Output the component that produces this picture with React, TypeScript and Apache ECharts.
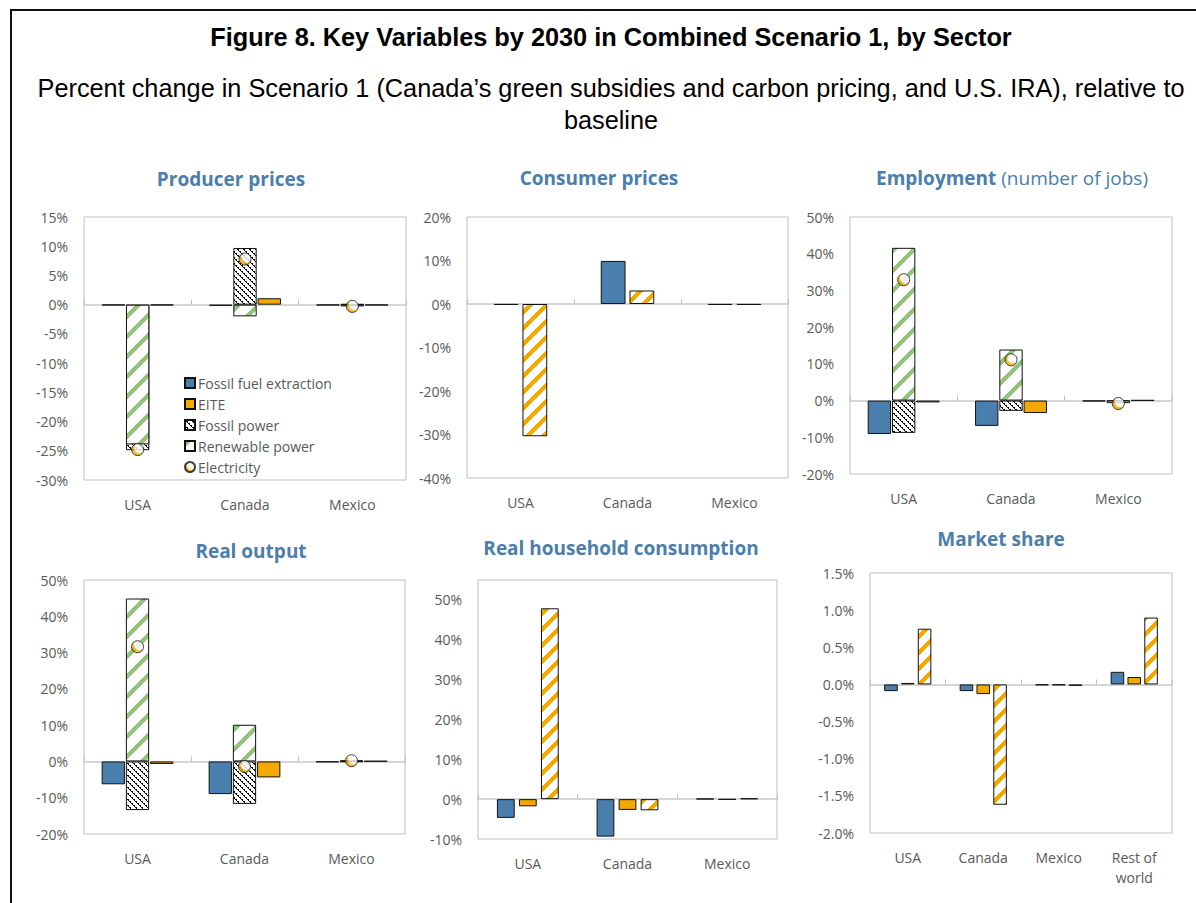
import React, { useEffect, useRef } from 'react';
import * as echarts from 'echarts';

// ---------- Categories ----------
const countries = ['USA', 'Canada', 'Mexico'];
const marketCountries = ['USA', 'Canada', 'Mexico', 'Rest of\nworld'];

// ---------- Producer prices (%) ----------
const ppFossilFuel = [-0.1, -0.2, -0.1];
const ppFossilPower = [-24.9, 9.7, 0.1];
const ppRenewable = [-23.9, -2.0, -0.3];
const ppEITE = [-0.1, 1.1, -0.1];
const ppElectricity = [-24.8, 7.8, -0.3];

// ---------- Consumer prices (%) ----------
const cpFossilFuel = [-0.2, 9.9, -0.2];
const cpElectricity = [-30.4, 3.1, -0.2];

// ---------- Employment (%) ----------
const emFossilFuel = [-9.1, -6.9, -0.2];
const emFossilPower = [-8.8, -2.8, -0.2];
const emRenewable = [41.6, 13.9, -0.7];
const emEITE = [-0.5, -3.4, 0.1];
const emElectricity = [32.9, 11.1, -0.8];

// ---------- Real output (%) ----------
const roFossilFuel = [-6.3, -9.0, -0.2];
const roFossilPower = [-13.4, -11.7, -0.1];
const roRenewable = [44.9, 10.1, 0.3];
const roEITE = [-0.7, -4.4, 0.1];
const roElectricity = [31.6, -1.4, 0.2];

// ---------- Real household consumption (%) ----------
const hcFossilFuel = [-4.7, -9.4, 0.1];
const hcEITE = [-1.8, -2.7, -0.1];
const hcElectricity = [47.9, -2.8, 0.2];

// ---------- Market share (percentage points) ----------
const msFossilFuel = [-0.09, -0.09, -0.01, 0.17];
const msEITE = [0.02, -0.13, -0.01, 0.1];
const msElectricity = [0.75, -1.62, -0.02, 0.9];

// ---------- Text ----------
const mainTitle = 'Figure 8. Key Variables by 2030 in Combined Scenario 1, by Sector';
const subTitle =
  'Percent change in Scenario 1 (Canada\u2019s green subsidies and carbon pricing, and U.S. IRA), relative to\nbaseline';
const legendNames = ['Fossil fuel extraction', 'EITE', 'Fossil power', 'Renewable power', 'Electricity'];

const BLUE = '#4A7EAD';
const ORANGE = '#F4A900';
const TITLE_BLUE = '#4A7EAC';
const GREY_TEXT = '#595959';
const FONT = 'Open Sans';

function makeTile(size: number, fn: (x: number, y: number) => number[] | null) {
  const c = document.createElement('canvas');
  c.width = size;
  c.height = size;
  const ctx = c.getContext('2d')!;
  const img = ctx.createImageData(size, size);
  for (let y = 0; y < size; y++) {
    for (let x = 0; x < size; x++) {
      const col = fn(x, y) || [255, 255, 255];
      const k = (y * size + x) * 4;
      img.data[k] = col[0];
      img.data[k + 1] = col[1];
      img.data[k + 2] = col[2];
      img.data[k + 3] = 255;
    }
  }
  ctx.putImageData(img, 0, 0);
  return { image: c, repeat: 'repeat', imageWidth: size, imageHeight: size } as any;
}

export default function App() {
  const ref = useRef<HTMLDivElement>(null);

  useEffect(() => {
    if (!ref.current) return;
    const chart = echarts.init(ref.current, null, { renderer: 'svg' });

    const greenStripe = makeTile(20, (x, y) => ((x + y) % 20 < 6 ? [147, 196, 125] : null));
    const orangeStripe = makeTile(16, (x, y) => ((x + y) % 16 < 6 ? [244, 169, 0] : null));
    const blackHatch = makeTile(6, (x, y) => {
      const d = (((x - y) % 6) + 6) % 6;
      return d === 0 || (d === 1 && x % 2 === 0) ? [0, 0, 0] : null;
    });

    const elecColor = new echarts.graphic.RadialGradient(0.66, 0.34, 0.66, [
      { offset: 0, color: '#ffffff' },
      { offset: 0.6, color: '#ffffff' },
      { offset: 0.78, color: ORANGE },
      { offset: 1, color: ORANGE },
    ]);

    const styles: Record<string, any> = {
      blue: { color: BLUE, borderColor: '#111', borderWidth: 1 },
      orange: { color: ORANGE, borderColor: '#111', borderWidth: 1 },
      green: { color: greenStripe, borderColor: '#111', borderWidth: 1 },
      hatch: { color: blackHatch, borderColor: '#111', borderWidth: 1 },
      ostripe: { color: orangeStripe, borderColor: '#111', borderWidth: 1 },
    };

    type Bar = { name: string; data: number[]; style: string };
    type Panel = {
      title: any;
      titleX: number;
      titleY: number;
      grid: { left: number; top: number; width: number; height: number };
      cats: string[];
      y: { min: number; max: number; interval: number; dec: number };
      slots: Bar[];
      overlay?: Bar;
      marker?: { name: string; data: number[] };
      catGap: string;
      gap: string;
    };

    const titleStyle = { fontFamily: FONT, fontSize: 19, fontWeight: 'bold', color: TITLE_BLUE };

    const panels: Panel[] = [
      {
        title: { text: 'Producer prices', textStyle: titleStyle },
        titleX: 231,
        titleY: 180,
        grid: { left: 84, top: 217, width: 322, height: 263 },
        cats: countries,
        y: { min: -30, max: 15, interval: 5, dec: 0 },
        slots: [
          { name: 'Fossil fuel extraction', data: ppFossilFuel, style: 'blue' },
          { name: 'Fossil power', data: ppFossilPower, style: 'hatch' },
          { name: 'EITE', data: ppEITE, style: 'orange' },
        ],
        overlay: { name: 'Renewable power', data: ppRenewable, style: 'green' },
        marker: { name: 'Electricity', data: ppElectricity },
        catGap: '33%',
        gap: '4%',
      },
      {
        title: { text: 'Consumer prices', textStyle: titleStyle },
        titleX: 599,
        titleY: 179,
        grid: { left: 467, top: 217, width: 321, height: 261 },
        cats: countries,
        y: { min: -40, max: 20, interval: 10, dec: 0 },
        slots: [
          { name: 'cp-fossil', data: cpFossilFuel, style: 'blue' },
          { name: 'cp-electricity', data: cpElectricity, style: 'ostripe' },
        ],
        catGap: '50%',
        gap: '16%',
      },
      {
        title: {
          text: '{b|Employment}{n| (number of jobs)}',
          textStyle: {
            rich: {
              b: { ...titleStyle },
              n: { ...titleStyle, fontWeight: 'normal' },
            },
          },
        },
        titleX: 1012,
        titleY: 178.5,
        grid: { left: 850, top: 217, width: 322, height: 257 },
        cats: countries,
        y: { min: -20, max: 50, interval: 10, dec: 0 },
        slots: [
          { name: 'em-fossil', data: emFossilFuel, style: 'blue' },
          { name: 'em-fossilpower', data: emFossilPower, style: 'hatch' },
          { name: 'em-eite', data: emEITE, style: 'orange' },
        ],
        overlay: { name: 'em-renewable', data: emRenewable, style: 'green' },
        marker: { name: 'em-electricity', data: emElectricity },
        catGap: '33%',
        gap: '4%',
      },
      {
        title: { text: 'Real output', textStyle: titleStyle },
        titleX: 251,
        titleY: 551.5,
        grid: { left: 84, top: 580, width: 321, height: 254 },
        cats: countries,
        y: { min: -20, max: 50, interval: 10, dec: 0 },
        slots: [
          { name: 'ro-fossil', data: roFossilFuel, style: 'blue' },
          { name: 'ro-fossilpower', data: roFossilPower, style: 'hatch' },
          { name: 'ro-eite', data: roEITE, style: 'orange' },
        ],
        overlay: { name: 'ro-renewable', data: roRenewable, style: 'green' },
        marker: { name: 'ro-electricity', data: roElectricity },
        catGap: '33%',
        gap: '4%',
      },
      {
        title: { text: 'Real household consumption', textStyle: titleStyle },
        titleX: 621,
        titleY: 549,
        grid: { left: 478, top: 580, width: 299, height: 259 },
        cats: countries,
        y: { min: -10, max: 55, interval: 10, dec: 0 },
        slots: [
          { name: 'hc-fossil', data: hcFossilFuel, style: 'blue' },
          { name: 'hc-eite', data: hcEITE, style: 'orange' },
          { name: 'hc-electricity', data: hcElectricity, style: 'ostripe' },
        ],
        catGap: '38%',
        gap: '24%',
      },
      {
        title: { text: 'Market share', textStyle: titleStyle },
        titleX: 1001,
        titleY: 540,
        grid: { left: 870, top: 573, width: 302, height: 260 },
        cats: marketCountries,
        y: { min: -2, max: 1.5, interval: 0.5, dec: 1 },
        slots: [
          { name: 'ms-fossil', data: msFossilFuel, style: 'blue' },
          { name: 'ms-eite', data: msEITE, style: 'orange' },
          { name: 'ms-electricity', data: msElectricity, style: 'ostripe' },
        ],
        catGap: '37.5%',
        gap: '24%',
      },
    ];

    const grids: any[] = [];
    const xAxes: any[] = [];
    const yAxes: any[] = [];
    const series: any[] = [];
    const titles: any[] = [
      {
        text: mainTitle,
        left: 611,
        top: 24,
        textAlign: 'center',
        padding: 0,
        textStyle: { fontFamily: 'Liberation Sans', fontSize: 25.3, fontWeight: 'bold', color: '#000' },
      },
      {
        text: subTitle,
        left: 611,
        top: 72,
        textAlign: 'center',
        padding: 0,
        textStyle: { fontFamily: 'Liberation Sans', fontSize: 25.3, fontWeight: 'normal', color: '#000', lineHeight: 32 },
      },
    ];

    panels.forEach((p, i) => {
      titles.push({ ...p.title, left: p.titleX, top: p.titleY - 10.5, textAlign: 'center', padding: 0 });
      grids.push({ ...p.grid, show: true, borderColor: '#BFBFBF', borderWidth: 1, backgroundColor: 'transparent' });
      xAxes.push({
        type: 'category',
        gridIndex: i,
        data: p.cats,
        position: 'bottom',
        axisLine: { show: false, onZero: false },
        axisTick: { show: false },
        splitLine: { show: false },
        axisLabel: { color: GREY_TEXT, fontSize: 14, fontFamily: FONT, margin: 14, lineHeight: 20, interval: 0 },
      });
      xAxes.push({
        type: 'category',
        gridIndex: i,
        data: p.cats,
        position: 'bottom',
        axisLine: { show: true, onZero: true, onZeroAxisIndex: i, lineStyle: { color: '#C8C8C8', width: 1.5 } },
        axisTick: { show: true, inside: true, length: 5, lineStyle: { color: '#BFBFBF', width: 1 } },
        splitLine: { show: false },
        axisLabel: { show: false },
      });
      yAxes.push({
        type: 'value',
        gridIndex: i,
        min: p.y.min,
        max: p.y.max,
        interval: p.y.interval,
        axisLine: { show: false },
        axisTick: { show: false },
        splitLine: { show: false },
        axisLabel: {
          color: GREY_TEXT,
          fontSize: 14,
          fontFamily: FONT,
          margin: 16,
          formatter: (v: number) => {
            const r = Math.round(v / p.y.interval) * p.y.interval;
            if (Math.abs(r - v) > 1e-6) return '';
            return v.toFixed(p.y.dec) + '%';
          },
        },
      });
      const base = { type: 'bar', yAxisIndex: i, barGap: p.gap, barCategoryGap: p.catGap };
      p.slots.forEach((b) => {
        series.push({ ...base, name: b.name, xAxisIndex: 2 * i, data: b.data, itemStyle: styles[b.style] });
      });
      if (p.overlay) {
        series.push({ ...base, name: `_d1_${i}`, xAxisIndex: 2 * i + 1, data: [] });
        series.push({
          ...base,
          name: p.overlay.name,
          xAxisIndex: 2 * i + 1,
          data: p.overlay.data,
          itemStyle: styles[p.overlay.style],
        });
        series.push({ ...base, name: `_d2_${i}`, xAxisIndex: 2 * i + 1, data: [] });
      }
      if (p.marker) {
        series.push({
          type: 'scatter',
          name: p.marker.name,
          xAxisIndex: 2 * i + 1,
          yAxisIndex: i,
          data: p.marker.data,
          symbol: 'circle',
          symbolSize: 12,
          z: 5,
          itemStyle: { color: elecColor, borderColor: '#111', borderWidth: 1 },
        });
      }
    });

    chart.setOption({
      animation: false,
      textStyle: { fontFamily: FONT },
      title: titles,
      grid: grids,
      xAxis: xAxes,
      yAxis: yAxes,
      legend: {
        orient: 'vertical',
        left: 184,
        top: 376,
        padding: 0,
        itemWidth: 10,
        itemHeight: 10,
        itemGap: 7,
        selectedMode: false,
        textStyle: { fontSize: 14, color: GREY_TEXT, fontFamily: FONT, padding: [0, 0, 0, -2] },
        data: legendNames.map((n) => ({ name: n, icon: n === 'Electricity' ? 'circle' : 'rect' })),
      },
      graphic: [
        {
          type: 'rect',
          silent: true,
          shape: { x: 11, y: 10, width: 1400, height: 1100 },
          style: { fill: null, stroke: '#111', lineWidth: 2 },
        },
      ],
      series,
    });

    return () => chart.dispose();
  }, []);

  return (
    <div
      ref={ref}
      style={{ position: 'fixed', left: 0, top: 0, width: 1196, height: 903, background: '#fff' }}
    />
  );
}
